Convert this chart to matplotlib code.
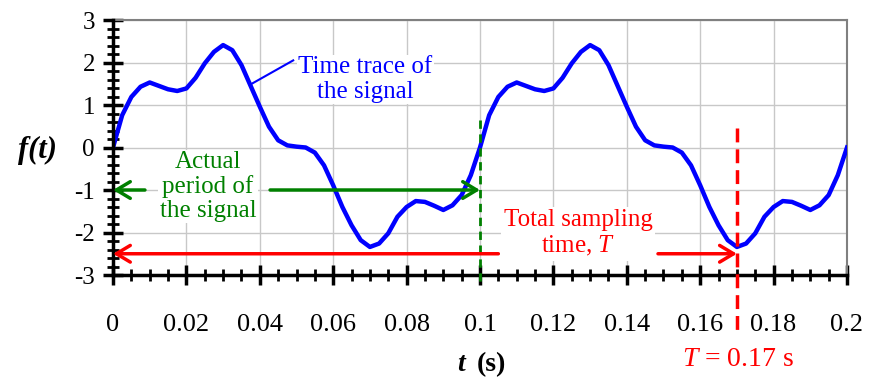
import matplotlib
matplotlib.use('Agg')
import matplotlib.pyplot as plt
import numpy as np
from matplotlib.ticker import MultipleLocator

plt.rcParams['font.family'] = ['Liberation Serif', 'DejaVu Serif']
plt.rcParams['mathtext.fontset'] = 'custom'
plt.rcParams['mathtext.rm'] = 'Liberation Serif'
plt.rcParams['mathtext.it'] = 'Liberation Serif:italic'
plt.rcParams['mathtext.bf'] = 'Liberation Serif:bold'
plt.rcParams['axes.unicode_minus'] = False

# time trace, one sample every 0.0025 s
t = np.arange(81) * 0.0025
f_period = [0.0, 0.76, 1.19, 1.43, 1.53, 1.45, 1.37, 1.33, 1.39, 1.64,
            1.98, 2.25, 2.41, 2.29, 1.94, 1.45, 0.96, 0.49, 0.17, 0.05,
            0.02, 0.0, -0.12, -0.42, -0.89, -1.40, -1.83, -2.18, -2.34, -2.26,
            -2.02, -1.63, -1.40, -1.26, -1.28, -1.37, -1.47, -1.36, -1.12, -0.65]
f = f_period + f_period + [0.0]

x_ticks = [0, 0.02, 0.04, 0.06, 0.08, 0.1, 0.12, 0.14, 0.16, 0.18, 0.2]
x_tick_labels = ['0', '0.02', '0.04', '0.06', '0.08', '0.1', '0.12', '0.14', '0.16', '0.18', '0.2']
y_ticks = [-3, -2, -1, 0, 1, 2, 3]

period_end = 0.1
sampling_T = 0.17
period_arrow_y = -1
sampling_arrow_y = -2.5

fig = plt.figure(figsize=(8.74, 3.79), dpi=100)
ax = fig.add_axes([0.1293, 0.2744, 0.8398, 0.6728])

ax.plot(t, f, color='#0000ff', lw=3.2, zorder=3, solid_joinstyle='round')

ax.set_xlim(0, 0.2)
ax.set_ylim(-3, 3)
ax.set_xticks(x_ticks)
ax.set_xticklabels(x_tick_labels)
ax.set_yticks(y_ticks)
ax.xaxis.set_minor_locator(MultipleLocator(0.005))
ax.yaxis.set_minor_locator(MultipleLocator(0.2))
ax.grid(True, which='major', color='#c8c8c8', lw=1)
ax.set_axisbelow(True)

for s in ['left', 'bottom']:
    ax.spines[s].set_color('black')
    ax.spines[s].set_linewidth(2.5)
    ax.spines[s].set_zorder(4)
for s in ['top', 'right']:
    ax.spines[s].set_color('#808080')
    ax.spines[s].set_linewidth(1.5)

ax.tick_params(which='major', direction='inout', length=14, width=2.5)
ax.tick_params(which='minor', direction='inout', length=8, width=2)
ax.tick_params(axis='x', which='major', pad=21, labelsize=19)
ax.tick_params(axis='y', which='major', pad=6, labelsize=18)

# vertical dashed markers
ax.plot([period_end, period_end], [0.64, -3.25], color='#008000', lw=2,
        dashes=(3, 2), clip_on=False, zorder=5)
ax.plot([sampling_T, sampling_T], [0.45, -4.38], color='#ff0000', lw=2.5,
        dashes=(4, 2), clip_on=False, zorder=5)

# green period arrow
arr = dict(arrowstyle='->,head_length=0.5,head_width=0.3', lw=2.5, shrinkA=0, shrinkB=0,
           mutation_scale=20)
ax.annotate('', xy=(0, period_arrow_y), xytext=(0.0087, period_arrow_y),
            arrowprops=dict(arr, color='#008000'), zorder=6)
ax.annotate('', xy=(period_end, period_arrow_y), xytext=(0.0428, period_arrow_y),
            arrowprops=dict(arr, color='#008000'), zorder=6)
ax.text(0.0259, -0.92, 'Actual\nperiod of\nthe signal', color='#008000', fontsize=18,
        ha='center', va='center', linespacing=1.1,
        bbox=dict(facecolor='white', edgecolor='none', pad=1), zorder=5)

# red sampling arrow
ax.annotate('', xy=(0, sampling_arrow_y), xytext=(0.105, sampling_arrow_y),
            arrowprops=dict(arr, color='#ff0000'), zorder=6)
ax.annotate('', xy=(sampling_T, sampling_arrow_y), xytext=(0.1485, sampling_arrow_y),
            arrowprops=dict(arr, color='#ff0000'), zorder=6)
ax.text(0.1267, -2.03, 'Total sampling\ntime, $\\mathit{T}$', color='#ff0000', fontsize=18,
        ha='center', va='center', linespacing=1.15,
        bbox=dict(facecolor='white', edgecolor='none', pad=2), zorder=5)

# blue label with leader line
ax.plot([0.0378, 0.0491], [1.5, 2.05], color='#0000ff', lw=1.5, zorder=4)
ax.text(0.0687, 1.6, 'Time trace of\nthe signal', color='#0000ff', fontsize=18,
        ha='center', va='center', linespacing=1.15,
        bbox=dict(facecolor='white', edgecolor='none', pad=1), zorder=5)

# axis titles
fig.text(37 / 874, 1 - 150 / 379, 'f(t)', fontsize=22, fontstyle='italic',
         fontweight='bold', ha='center', va='center')
fig.text(465 / 874, 1 - 377 / 379, 't', fontsize=20, fontstyle='italic',
         fontweight='bold', ha='right', va='bottom')
fig.text(477 / 874, 1 - 377 / 379, '(s)', fontsize=20,
         fontweight='bold', ha='left', va='bottom')
fig.text(738 / 874, 1 - 359 / 379, r'$\mathit{T}$ = 0.17 s', color='#ff0000', fontsize=20,
         ha='center', va='center')

fig.savefig('out.png', dpi=100)
